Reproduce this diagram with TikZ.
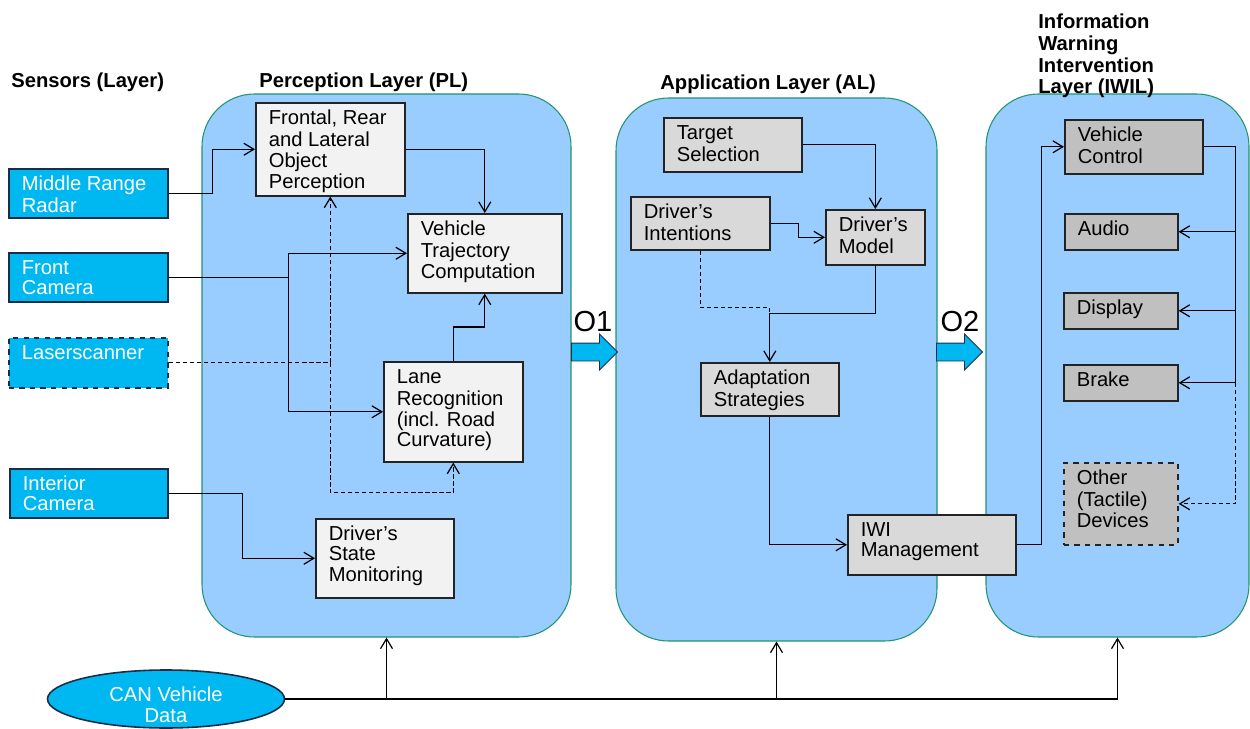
\documentclass[tikz,border=0pt]{standalone}
\usepackage{fontspec}
\setmainfont{Liberation Sans}
\usetikzlibrary{arrows.meta,shapes.geometric,shapes.arrows,calc}
\definecolor{senscyan}{RGB}{0,184,241}
\definecolor{layerblue}{RGB}{153,204,255}
\definecolor{layeredge}{RGB}{30,150,110}
\definecolor{plgrey}{RGB}{242,242,242}
\definecolor{algrey}{RGB}{217,217,217}
\definecolor{iwgrey}{RGB}{192,192,192}
\definecolor{boxedge}{RGB}{35,35,35}
\definecolor{sensedge}{RGB}{25,45,70}
\newlength{\pxu}
\setlength{\pxu}{0.02cm}
\newcommand{\bt}[3]{\parbox[c][#2\pxu][t]{#1\pxu}{\raggedright\leftskip=13\pxu\vspace*{7\pxu}\strut#3}}
\newcommand{\lowtext}[1]{\raisebox{-23\pxu}[0pt][0pt]{\begin{tabular}[b]{@{}c@{}}#1\end{tabular}}}
\tikzset{
  font=\fontsize{11.5}{11.7}\selectfont,
  layer/.style ={draw=layeredge, fill=layerblue, line width=0.6pt, rounded corners=1.05cm, inner sep=0pt},
  sens/.style  ={draw=sensedge, fill=senscyan, text=white, line width=0.9pt, inner sep=0pt, anchor=north west},
  plb/.style   ={draw=boxedge, fill=plgrey, line width=0.9pt, inner sep=0pt, anchor=north west},
  alb/.style   ={draw=boxedge, fill=algrey, line width=0.9pt, inner sep=0pt, anchor=north west},
  iwb/.style   ={draw=boxedge, fill=iwgrey, line width=0.9pt, inner sep=0pt, anchor=north west},
  canel/.style ={ellipse, draw=sensedge, fill=senscyan, text=white, line width=0.9pt, inner sep=0pt},
  ttl/.style   ={font=\bfseries\fontsize{11.5}{12.3}\selectfont, align=left, inner sep=0pt},
  onum/.style  ={font=\fontsize{16.5}{18}\selectfont, inner sep=0pt},
  bigarr/.style={single arrow, draw=sensedge, fill=senscyan, line width=0.5pt, inner xsep=0pt, inner ysep=8.5\pxu,
                 single arrow head extend=9\pxu, single arrow head indent=0pt, minimum height=46\pxu, anchor=tail},
  arr/.style   ={-{Straight Barb[length=2mm,width=2.4mm]}, line width=0.7pt},
  darr/.style  ={arr, dash pattern=on 2.5pt off 1.5pt},
  dln/.style   ={line width=0.7pt, dash pattern=on 2.5pt off 1.5pt},
  ln/.style    ={line width=0.7pt},
}

\begin{document}
\begin{tikzpicture}[x=0.02cm, y=-0.02cm]
  \useasboundingbox (0,0) rectangle (1250,729);

  % layers
  \node[layer, minimum width=369\pxu, minimum height=543\pxu] (pl) at (386.5,365.5) {};
  \node[layer, minimum width=321\pxu, minimum height=543\pxu] (al) at (776.5,369.5) {};
  \node[layer, minimum width=263\pxu, minimum height=543\pxu] (iwil) at (1117.5,365.5) {};

  \node[ttl, anchor=base west] (senst) at (11,88) {Sensors (Layer)};
  \node[ttl, anchor=base west] (plt) at (259,88) {Perception Layer (PL)};
  \node[ttl, anchor=base west] (alt) at (660,90) {Application Layer (AL)};
  \node[ttl, anchor=north west] (iwt) at (1038,14) {Information\\Warning\\Intervention\\Layer (IWIL)};

  \node[bigarr] (o1) at (571,352) {};
  \node[bigarr] (o2) at (936,352) {};
  \node[onum] (o1t) at (593,322) {O1};
  \node[onum] (o2t) at (960,322) {O2};

  % sensors
  \node[sens] (radar) at (8,168) {\bt{159}{49}{Middle Range\\Radar}};
  \node[sens] (fcam) at (8,252) {\bt{159}{49}{Front\\Camera}};
  \node[sens, dashed] (laser) at (8,337) {\bt{159}{50}{Laserscanner}};
  \node[sens] (icam) at (9,468) {\bt{158}{49}{Interior\\Camera}};

  % perception
  \node[plb] (frontal) at (255,102) {\bt{149}{93}{Frontal, Rear\\and Lateral\\Object\\Perception}};
  \node[plb] (traj) at (407,213) {\bt{154}{79}{Vehicle\\Trajectory\\Computation}};
  \node[plb] (lane) at (383,361) {\bt{139}{100}{Lane\\Recognition\\(incl. Road\\Curvature)}};
  \node[plb] (dsm) at (315,518) {\bt{138}{79}{Driver’s\\State\\Monitoring}};

  % application
  \node[alb] (target) at (663,117) {\bt{138}{54}{Target\\Selection}};
  \node[alb] (intent) at (630,196) {\bt{139}{53}{Driver’s\\Intentions}};
  \node[alb] (dmodel) at (825,209) {\bt{99}{55}{Driver’s\\Model}};
  \node[alb] (adapt) at (700,362) {\bt{138}{53}{Adaptation\\Strategies}};
  \node[alb] (iwi) at (847,514) {\bt{168}{60}{IWI\\Management}};

  % iwil
  \node[iwb] (vctrl) at (1064,119) {\bt{138}{54}{Vehicle\\Control}};
  \node[iwb] (audio) at (1064,213) {\bt{113}{36}{Audio}};
  \node[iwb] (display) at (1063,292) {\bt{114}{36}{Display}};
  \node[iwb] (brake) at (1063,364) {\bt{114}{36}{Brake}};
  \node[iwb, dashed] (other) at (1063,462) {\bt{114}{82}{Other\\(Tactile)\\Devices}};

  \node[canel, minimum width=237\pxu, minimum height=58\pxu] (can) at (166,699) {\lowtext{CAN Vehicle\\Data}};

  \draw[arr] (radar.east) -- ++(44,0) |- (frontal.west);
  \draw[arr] (frontal.east) -| (traj.north);
  \draw[arr] (fcam.east) -- ++(120,0) |- (traj.west);
  \draw[arr] (fcam.east) -- ++(120,0) |- (lane.west);
  \draw[arr] (lane.north) -- ++(0,-34) -| (traj.south);
  \draw[darr] (laser.east) -| (frontal.south);
  \draw[darr] (laser.east -| frontal.south) -- ++(0,130) -| (lane.south);
  \draw[arr] (icam.east) -- ++(74,0) |- (dsm.west);

  \draw[arr] (target.east) -| (dmodel.north);
  \draw[arr] (intent.east) -- ++(28,0) |- (dmodel.west);
  \draw[arr] (dmodel.south) -- ++(0,48) -| (adapt.north);
  \draw[dln] (intent.south) -- ++(0,57) -- ++(69,0) -- ++(0,5);
  \draw[arr] (adapt.south) |- (iwi.west);

  \draw[arr] (iwi.east) -- ++(25,0) |- (vctrl.west);
  \coordinate (vbus) at ($(vctrl.east)+(32,0)$);
  \draw[ln] (vctrl.east) -- (vbus) -- (vbus |- brake.east);
  \draw[arr] (vbus |- audio.east) -- (audio.east);
  \draw[arr] (vbus |- display.east) -- (display.east);
  \draw[arr] (vbus |- brake.east) -- (brake.east);
  \draw[darr] (vbus |- brake.east) |- (other.east);

  \draw[arr] (can.east) -| (iwil.south);
  \draw[arr] (can.east -| pl.south) -- (pl.south);
  \draw[arr] (can.east -| al.south) -- (al.south);
\end{tikzpicture}
\end{document}
